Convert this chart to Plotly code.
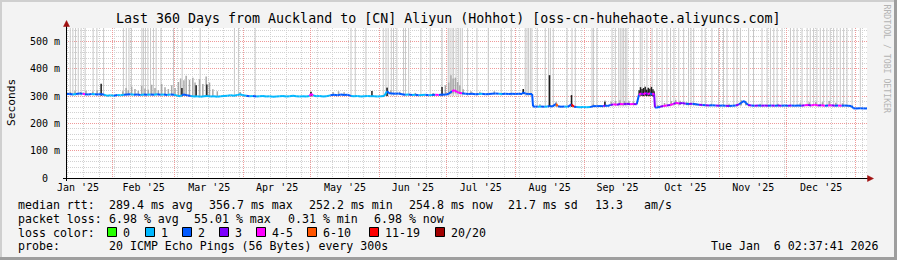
import pandas as pd
import plotly.graph_objects as go

# ---------------- data ----------------
window_start = "2025-01-11 02:37:41"
window_end = "2026-01-06 02:37:41"
y_max = 550

y_tick_vals = [0, 100, 200, 300, 400, 500]
y_tick_text = ["0\u00a0\u00a0", "100 m", "200 m", "300 m", "400 m", "500 m"]

loss_labels = ["0", "1", "2", "3", "4-5", "6-10", "11-19", "20/20"]
loss_colors = ["#26ff00", "#00b8ff", "#0059ff", "#7e00ff", "#ff00ff", "#ff5500", "#ff0000", "#a10000"]

# median rtt (days since window start, ms, loss class of the segment that starts there)
median_day = [0, 1.5, 3, 4.5, 6, 7.5, 8.5, 10, 11.5, 13, 14.5, 15.8, 17, 18.4, 20, 21.5, 23, 24.5, 26, 27.4,
              29, 30.5, 32, 33.5, 35, 36.5, 38, 39.5, 41, 42.5, 44, 45.5, 47, 48.5, 50, 51.5, 52.1, 53, 54.5, 56,
              57.5, 59, 60.5, 62, 63.5, 65, 66.5, 68, 69.5, 71, 72.5, 74, 75.5, 77, 78.3, 79.5, 81, 82.5, 84, 85.5,
              87, 88.5, 90, 91.5, 93, 94.5, 96, 97.5, 99, 100.5, 102, 103.5, 105, 106.5, 108, 109.5, 110.1, 111, 112.5, 114,
              115.5, 117, 118.8, 120.5, 122, 123.5, 125, 126.5, 128, 129.5, 131, 132.5, 134, 135.5, 137, 138.5, 140, 141.5, 143, 144.3,
              145.2, 146.5, 148, 149.5, 151, 152.5, 154, 155.5, 157, 158.5, 160, 161.5, 163, 164.5, 166, 167.5, 169, 170.5, 172, 173.5,
              174.5, 175.7, 176.5, 178, 179.5, 181, 182.5, 184, 185.5, 187, 188.5, 190, 191.5, 193, 194.5, 196, 197.5, 199, 200.5, 202,
              203.5, 205, 205.5, 206.5, 208, 209.5, 209.9, 211, 212, 213.5, 215, 216.5, 217.3, 218.5, 220.3, 221, 222.5, 224, 225.5, 227.2,
              228.3, 229.5, 231, 232.5, 234, 235.5, 237.3, 238.5, 240, 241.5, 242.2, 243.5, 244.8, 246, 247.5, 249, 250.5, 252, 253.5, 255,
              256.5, 257.5, 258.5, 259.5, 260.5, 261.5, 262.5, 263.5, 264.3, 264.7, 265.5, 267, 268.5, 270, 271.5, 273, 274, 275.5, 277, 278.5,
              280, 281.5, 283, 284.5, 286, 287.5, 289, 290.5, 292, 293.5, 295, 296.5, 298, 299.5, 301, 302.5, 303.5, 304.7, 305.5, 306.5,
              308, 309.5, 311, 312.5, 314, 315.5, 317, 318.5, 320, 321.5, 323, 324.5, 326, 327.5, 329, 330.5, 332, 333.5, 335, 336.5,
              338, 339.5, 341, 342.5, 344, 345.5, 347, 348.5, 350, 351.5, 353, 353.8, 355, 357, 358.5, 360]
median_ms = [307, 309, 306, 308, 310, 309, 307, 306, 308, 307, 306, 308, 305, 302, 303, 302, 304, 303, 305, 306,
             307, 305, 306, 304, 306, 305, 306, 305, 307, 305, 306, 304, 306, 305, 302, 300, 304, 306, 303, 301,
             299, 300, 298, 300, 301, 299, 300, 298, 300, 301, 302, 303, 302, 304, 307, 303, 302, 300, 301, 299,
             300, 301, 299, 300, 298, 299, 300, 301, 299, 300, 302, 300, 299, 300, 299, 301, 309, 303, 300, 301,
             299, 300, 303, 305, 303, 306, 304, 305, 301, 300, 301, 299, 300, 301, 300, 300, 299, 300, 301, 318,
             311, 310, 309, 310, 307, 305, 306, 304, 305, 303, 304, 305, 303, 304, 305, 304, 306, 305, 309, 318,
             322, 316, 313, 311, 309, 308, 309, 307, 308, 309, 307, 308, 309, 310, 309, 308, 309, 308, 309, 308,
             309, 308, 314, 309, 308, 308, 262, 262, 261, 262, 261, 262, 264, 262, 272, 263, 261, 262, 261, 270,
             261, 260, 259, 260, 259, 260, 264, 263, 264, 263, 266, 264, 268, 270, 269, 271, 270, 272, 270, 271,
             270, 305, 310, 306, 312, 307, 311, 306, 310, 259, 258, 261, 264, 266, 268, 271, 276, 273, 275, 272,
             271, 272, 270, 269, 268, 267, 266, 267, 266, 265, 266, 265, 264, 265, 266, 270, 276, 283, 276, 268,
             266, 265, 266, 265, 266, 265, 266, 265, 266, 265, 266, 265, 266, 265, 266, 265, 267, 268, 266, 269,
             266, 267, 265, 266, 267, 265, 266, 265, 266, 265, 264, 256, 255, 256, 255, 255]
median_loss = [2, 2, 1, 2, 2, 4, 2, 2, 1, 2, 2, 2, 1, 1, 1, 2, 1, 1, 2, 2,
               1, 2, 2, 1, 2, 1, 2, 1, 2, 1, 2, 1, 2, 1, 1, 1, 2, 2, 2, 1,
               1, 1, 1, 1, 1, 1, 1, 1, 1, 1, 1, 1, 1, 1, 1, 1, 2, 1, 2, 1,
               1, 1, 1, 1, 1, 1, 1, 1, 1, 1, 1, 1, 1, 1, 1, 4, 4, 1, 1, 1,
               1, 1, 2, 2, 2, 2, 2, 2, 1, 1, 1, 1, 1, 1, 1, 1, 1, 1, 1, 2,
               2, 2, 2, 2, 2, 1, 2, 1, 2, 1, 1, 2, 1, 2, 4, 2, 2, 2, 2, 4,
               4, 4, 4, 2, 2, 2, 2, 2, 1, 2, 2, 2, 2, 2, 1, 2, 2, 2, 2, 2,
               2, 2, 2, 2, 2, 2, 2, 2, 1, 2, 1, 2, 2, 2, 5, 2, 2, 1, 2, 6,
               2, 1, 1, 1, 1, 2, 2, 2, 2, 3, 2, 2, 3, 4, 3, 4, 3, 3, 4, 3,
               2, 4, 3, 4, 3, 4, 2, 4, 3, 2, 2, 3, 4, 3, 4, 3, 4, 3, 3, 2,
               3, 2, 2, 3, 2, 3, 2, 2, 3, 2, 2, 3, 2, 2, 3, 2, 2, 2, 2, 3,
               2, 3, 2, 3, 3, 2, 3, 2, 3, 2, 2, 3, 2, 2, 2, 3, 4, 3, 4, 4,
               3, 4, 2, 4, 3, 2, 4, 2, 2, 2, 2, 2, 2, 2, 2, 2]

# dark smoke spikes
dark_day = [15.8, 52.1, 58.5, 63.3, 110.1, 137.5, 144.3, 169.0, 205.5, 217.3, 227.2, 242.2,
            257.6, 258.2, 258.9, 259.6, 260.3, 261.0, 261.7, 262.4, 263.1, 263.8, 264.3]
dark_lo = [302, 300, 298, 298, 300, 299, 301, 302, 308, 262, 261, 263,
           300, 302, 301, 300, 302, 300, 301, 300, 301, 300, 298]
dark_hi = [346, 330, 340, 343, 315, 319, 331, 334, 326, 377, 304, 280,
           322, 333, 326, 330, 335, 324, 331, 327, 334, 325, 318]

# mid-grey smoke
mid_day = [2, 4, 6.5, 9, 12, 14, 25.5, 27, 28, 29.5, 31, 32.5, 34, 35.5, 37, 38.5, 40, 41.5, 43, 44.5,
           46, 47.5, 49, 50.5, 51.5, 53, 54, 55.5, 57, 58, 60, 61.5, 63, 64.5, 66, 68, 78.3, 110.1, 120, 122.5,
           125, 144.3, 146, 150, 157, 165, 170.5, 172, 173, 174, 175, 176, 177, 178.5, 182, 186, 192.5, 205.5,
           213, 220.3, 237, 242.2, 245, 247, 249, 251, 253, 255, 266, 269, 272, 274, 276, 279, 283, 290,
           298, 303.5, 305.5, 312, 320, 330, 334, 337, 340, 343, 346, 349]
mid_lo = [306, 306, 307, 306, 306, 305, 303, 304, 304, 305, 304, 304, 304, 303, 304, 304, 304, 303, 304, 303,
          304, 303, 302, 300, 300, 302, 301, 300, 299, 299, 298, 298, 298, 299, 299, 298, 303, 298, 303, 303,
          303, 300, 308, 306, 303, 303, 304, 306, 308, 310, 310, 309, 308, 307, 306, 306, 307, 307,
          260, 260, 262, 262, 266, 267, 268, 268, 268, 268, 258, 262, 266, 268, 268, 267, 266, 264,
          264, 266, 266, 264, 264, 264, 265, 265, 264, 264, 264, 263]
mid_hi = [316, 318, 315, 320, 317, 322, 318, 330, 322, 335, 326, 320, 338, 328, 324, 342, 330, 322, 345, 333,
          326, 340, 330, 352, 365, 358, 375, 360, 368, 350, 362, 345, 372, 350, 325, 318, 315, 318, 315, 318,
          314, 332, 322, 316, 312, 312, 340, 350, 377, 365, 368, 352, 340, 325, 318, 316, 318, 320,
          270, 280, 272, 284, 280, 282, 285, 283, 282, 280, 268, 275, 282, 287, 283, 278, 275, 272,
          272, 285, 282, 272, 272, 274, 278, 280, 278, 282, 276, 274]

# light smoke reaching past the top of the graph
tall_day_a = [1.9, 3.1, 4.3, 5.5, 6.8, 8.6, 12.2, 13.9, 16.9, 25.8, 27.1, 28.3, 29.4, 34.1, 34.8, 35.7, 36.8,
              38.0, 39.3, 40.5, 42.7, 48.3, 52.2, 60.3, 75.7, 77.5, 85.0, 128.1, 130.0, 134.8, 142.6, 143.8,
              144.8, 146.2, 147.2, 148.7, 151.7, 152.6, 154.0, 159.5, 163.7, 169.0, 171.8, 172.6, 173.5, 174.2,
              175.3, 176.3, 177.2, 178.1, 180.5, 184.7, 189.8, 195.6, 200.1, 206.4, 207.2, 207.9, 208.7, 209.4]
tall_base_a = 300
tall_day_b = [211.8, 215.4, 216.9, 217.7, 219.0, 225.2, 227.4, 228.9, 236.4, 237.1, 238.6, 245.4, 246.9,
              248.4, 249.1, 249.9, 250.6, 251.4, 252.1, 255.1, 265.6, 267.9, 270.1, 271.7, 273.2, 275.4,
              277.6, 279.8, 280.9, 282.1, 285.8, 287.3, 290.3, 293.3, 295.5, 297.1, 300.1, 301.6, 303.1,
              306.8, 309.0, 312.8, 315.1, 316.6, 318.1, 319.6, 321.8, 325.6, 327.1, 328.6, 330.8, 333.1,
              334.5, 336.0, 337.5, 339.0, 340.5, 342.0, 343.5, 345.0, 346.5, 348.0, 349.5, 351.0, 353.3, 357.0]
tall_base_b = 262
tall_day_c = [258.1, 258.9, 261.1, 263.4]
tall_base_c = 306

title_text = "Last 360 Days from Auckland to [CN] Aliyun (Hohhot) [oss-cn-huhehaote.aliyuncs.com]"
median_stats = ["median rtt:", "289.4 ms avg", "356.7 ms max", "252.2 ms min", "254.8 ms now", "21.7 ms sd", "13.3", "am/s"]
loss_stats = ["packet loss:", "6.98 % avg", "55.01 % max", "0.31 % min", "6.98 % now"]
probe_text = ["probe:", "20 ICMP Echo Pings (56 Bytes) every 300s"]
stamp_text = "Tue Jan\u00a0\u00a06 02:37:41 2026"
watermark = "RRDTOOL / TOBI OETIKER"

# ---------------- layout constants ----------------
W, H = 897, 260
ML, MR, MT, MB = 66, 30, 28, 82
PW, PH = W - ML - MR, H - MT - MB
FONT = "DejaVu Sans Mono"

def px(x):
    return (x - ML) / PW

def py(y):
    return (H - MB - y) / PH

t0 = pd.Timestamp(window_start)

def ts(d):
    return (t0 + pd.to_timedelta(d, unit="D")).strftime("%Y-%m-%d %H:%M:%S")

def columns(days, lo, hi):
    xs, ys = [], []
    for d, a, b in zip(days, lo, hi):
        t = ts(d)
        xs += [t, t, None]
        ys += [a, b, None]
    return xs, ys

fig = go.Figure()

for days, base in [(tall_day_a, tall_base_a), (tall_day_b, tall_base_b), (tall_day_c, tall_base_c)]:
    xs, ys = columns(days, [base] * len(days), [y_max] * len(days))
    fig.add_trace(go.Scatter(x=xs, y=ys, mode="lines", line=dict(color="#c8c8c8", width=1),
                             hoverinfo="skip", showlegend=False))

xs, ys = columns(mid_day, mid_lo, mid_hi)
fig.add_trace(go.Scatter(x=xs, y=ys, mode="lines", line=dict(color="#a8a8a8", width=1.5),
                         hoverinfo="skip", showlegend=False))
xs, ys = columns(dark_day, dark_lo, dark_hi)
fig.add_trace(go.Scatter(x=xs, y=ys, mode="lines", line=dict(color="#1e1e1e", width=1.5),
                         hoverinfo="skip", showlegend=False))

mt = [ts(d) for d in median_day]
for k, col in enumerate(loss_colors):
    xs, ys = [], []
    for i in range(len(median_day) - 1):
        if median_loss[i] == k:
            xs += [mt[i], mt[i + 1], None]
            ys += [median_ms[i], median_ms[i + 1], None]
    if xs:
        fig.add_trace(go.Scatter(x=xs, y=ys, mode="lines", line=dict(color=col, width=2),
                                 hoverinfo="skip", showlegend=False))

shapes = []
# frame
shapes.append(dict(type="rect", xref="paper", yref="paper", x0=px(0), x1=px(W), y0=py(0), y1=py(2),
                   fillcolor="#cfcfcf", line=dict(width=0)))
shapes.append(dict(type="rect", xref="paper", yref="paper", x0=px(0), x1=px(2), y0=py(0), y1=py(H),
                   fillcolor="#cfcfcf", line=dict(width=0)))
shapes.append(dict(type="rect", xref="paper", yref="paper", x0=px(0), x1=px(W), y0=py(H - 3), y1=py(H),
                   fillcolor="#9e9e9e", line=dict(width=0)))
shapes.append(dict(type="rect", xref="paper", yref="paper", x0=px(W - 3), x1=px(W), y0=py(0), y1=py(H),
                   fillcolor="#9e9e9e", line=dict(width=0)))
# axes
shapes.append(dict(type="line", xref="paper", yref="paper", x0=px(63), x1=px(869), y0=py(178.5), y1=py(178.5),
                   line=dict(color="black", width=1)))
shapes.append(dict(type="line", xref="paper", yref="paper", x0=px(66.5), x1=px(66.5), y0=py(181), y1=py(24),
                   line=dict(color="black", width=1)))
arrow = "#a01010"
shapes.append(dict(type="path", xref="paper", yref="paper",
                   path=f"M {px(66.5)},{py(20.5)} L {px(63.5)},{py(26.5)} L {px(69.5)},{py(26.5)} Z",
                   fillcolor=arrow, line=dict(color=arrow, width=0.5)))
shapes.append(dict(type="path", xref="paper", yref="paper",
                   path=f"M {px(873.5)},{py(178.5)} L {px(867.5)},{py(175.5)} L {px(867.5)},{py(181.5)} Z",
                   fillcolor=arrow, line=dict(color=arrow, width=0.5)))

annotations = []

def text(x, y, s, size=11.6, anchor="left", color="black", angle=0):
    annotations.append(dict(xref="paper", yref="paper", x=px(x), y=py(y), text=s, showarrow=False,
                            xanchor=anchor, yanchor="middle", textangle=angle,
                            font=dict(family=FONT, size=size, color=color)))

text(448, 19, title_text, size=13.3, anchor="center")
text(11, 103, "Seconds", size=11.2, anchor="center", angle=-90)
text(886.5, 59, watermark, size=8.2, anchor="center", color="#b4b4b4", angle=90)

line1_x = [15.5, 106.8, 206.8, 306.8, 406.8, 506.2, 592.8, 641.8]
for s, x in zip(median_stats, line1_x):
    text(x, 204.5, s)
line2_x = [15.5, 106.8, 192.2, 286.2, 372.2]
for s, x in zip(loss_stats, line2_x):
    text(x, 218.5, s)
text(15.5, 232.5, "loss color:")
box_x = [107.5, 145.5, 182.5, 219.5, 256.5, 307.5, 369.5, 435.5]
for bx, lab, col in zip(box_x, loss_labels, loss_colors):
    shapes.append(dict(type="rect", xref="paper", yref="paper", x0=px(bx), x1=px(bx + 9),
                       y0=py(227.5), y1=py(236.5), fillcolor=col, line=dict(color="black", width=1)))
    text(bx + 13.5, 232.5, lab)
text(15.5, 246.5, probe_text[0])
text(106.8, 246.5, probe_text[1])
text(880.5, 246.5, stamp_text, anchor="right")

fig.update_layout(
    width=W, height=H, autosize=False,
    margin=dict(l=ML, r=MR, t=MT, b=MB, pad=0),
    paper_bgcolor="#f3f3f3", plot_bgcolor="white",
    font=dict(family=FONT, size=10, color="black"),
    shapes=shapes, annotations=annotations,
    xaxis=dict(type="date", range=[window_start, window_end], dtick="M1", tick0="2025-01-01",
               ticklabelmode="period", tickformat="%b '%y", showgrid=True,
               gridcolor="#ee9a9a", griddash="1px,1px", gridwidth=1,
               minor=dict(dtick=7 * 86400000, tick0="2025-01-05", showgrid=True,
                          gridcolor="#d2d2d2", griddash="1px,1px", gridwidth=1),
               showline=False, zeroline=False, ticks="", ticklabelstandoff=2,
               tickfont=dict(family=FONT, size=10)),
    yaxis=dict(range=[0, y_max], tickvals=y_tick_vals, ticktext=y_tick_text, showgrid=True,
               gridcolor="#ee9a9a", griddash="1px,1px", gridwidth=1,
               minor=dict(dtick=20, showgrid=True, gridcolor="#d2d2d2", griddash="1px,1px", gridwidth=1),
               showline=False, zeroline=False, ticks="", ticklabelstandoff=5,
               tickfont=dict(family=FONT, size=10)),
)

fig.write_html("out.html")
